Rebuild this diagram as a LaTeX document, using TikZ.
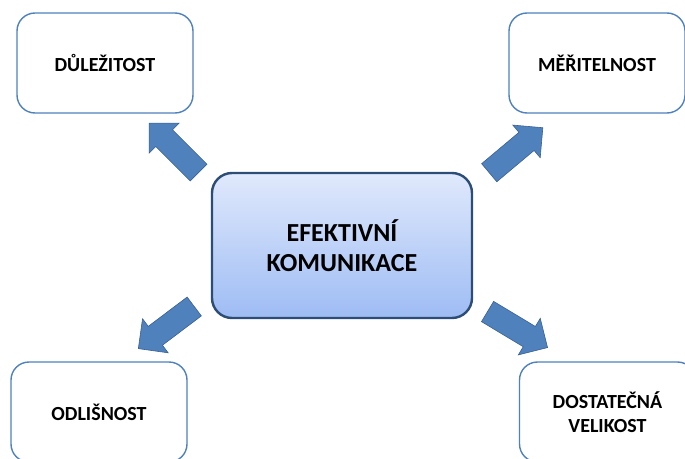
\documentclass[tikz,border=0pt]{standalone}
\usepackage{fontspec}
\setmainfont{Carlito}
\usetikzlibrary{shapes.arrows}
\definecolor{boxline}{RGB}{79,129,189}
\definecolor{arrowfill}{RGB}{79,129,189}
\definecolor{arrowline}{RGB}{58,96,145}
\definecolor{coreline}{RGB}{44,77,117}
\definecolor{coretop}{RGB}{224,233,252}
\definecolor{corebottom}{RGB}{158,188,244}

\begin{document}
\begin{tikzpicture}[x=1pt,y=-1pt,
    factor/.style={draw=boxline, line width=1.4pt, rounded corners=18pt, fill=white,
        minimum width=176pt, minimum height=100pt, align=center,
        font=\fontsize{20}{24}\selectfont\bfseries},
    core/.style={draw=coreline, line width=2.4pt, rounded corners=20pt,
        top color=coretop, bottom color=corebottom,
        minimum width=260pt, minimum height=145pt, align=center,
        font=\fontsize{26}{30}\selectfont\bfseries},
    bigarrow/.style={single arrow, draw=arrowline, fill=arrowfill, line width=0.6pt,
        inner xsep=0pt, inner ysep=11.5pt, single arrow head extend=9.5pt,
        minimum height=70pt}]
    \path[use as bounding box, clip] (0,0) rectangle (685,458);

    \node[core] (komunikace) at (342,245.5) {EFEKTIVNÍ\\KOMUNIKACE};

    \node[factor] (dulezitost) at (105,63) {DŮLEŽITOST};
    \node[factor] (meritelnost) at (597,63) {MĚŘITELNOST};
    \node[factor] (odlisnost) at (99,412) {ODLIŠNOST};
    \node[factor] (velikost) at (607.5,412) {DOSTATEČNÁ\\VELIKOST};

    \node[bigarrow, rotate=135] (toDulezitost) at (178,152) {};
    \node[bigarrow, rotate=40] (toMeritelnost) at (511.5,154) {};
    \node[bigarrow, rotate=217] (toOdlisnost) at (171,324) {};
    \node[bigarrow, rotate=-31] (toVelikost) at (512.5,326.5) {};
\end{tikzpicture}
\end{document}
